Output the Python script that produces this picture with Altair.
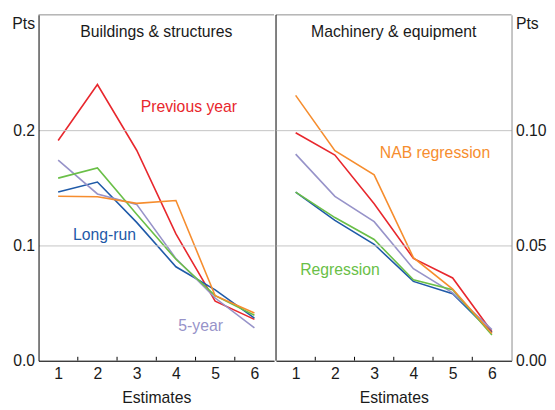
import altair as alt
import pandas as pd

# ---- data ----
estimates = [1, 2, 3, 4, 5, 6]
series_names = ["Previous year", "Long-run", "5-year", "Regression", "NAB regression"]
series_colors = ["#e8272d", "#1f5aa8", "#9793c9", "#6abf47", "#f68d2e"]

# Buildings & structures
bs_previous_year = [0.191, 0.2396, 0.1826, 0.110, 0.0516, 0.0359]
bs_long_run = [0.1464, 0.1550, 0.1200, 0.0815, 0.0615, 0.0370]
bs_five_year = [0.1740, 0.1447, 0.1356, 0.0886, 0.0544, 0.0285]
bs_regression = [0.1584, 0.1672, 0.1270, 0.0880, 0.0565, 0.0395]
bs_nab = [0.1427, 0.1422, 0.1365, 0.1390, 0.0564, 0.0414]

# Machinery & equipment
me_previous_year = [0.0989, 0.0892, 0.0681, 0.0444, 0.0359, 0.0126]
me_long_run = [0.0731, 0.0609, 0.0505, 0.0344, 0.0291, 0.0122]
me_five_year = [0.0896, 0.0713, 0.0603, 0.0399, 0.0294, 0.0135]
me_regression = [0.0731, 0.0621, 0.0526, 0.0351, 0.0308, 0.0112]
me_nab = [0.1151, 0.0911, 0.0806, 0.0447, 0.0311, 0.0118]

# series labels (anchor in data units)
bs_labels = ["Previous year", "Long-run", "5-year"]
bs_label_x = [4.33, 2.18, 4.63]
bs_label_y = [0.2197, 0.1094, 0.0299]
me_labels = ["NAB regression", "Regression"]
me_label_x = [4.55, 2.13]
me_label_y = [0.0902, 0.0393]

panel_titles = ["Buildings & structures", "Machinery & equipment"]

W, H = 239, 351
FONT = "Liberation Sans"
TXT = "#1a1a1a"
GRAY = "#8c8c8c"
FS = 16


def long_df(vals):
    rows = []
    for name, v in zip(series_names, vals):
        for e, val in zip(estimates, v):
            rows.append({"series": name, "est": e, "value": val})
    return pd.DataFrame(rows)


color = alt.Color("series:N", scale=alt.Scale(domain=series_names, range=series_colors), legend=None)


def panel(vals, labels, lx, ly, title, ymax, yvals, yfmt, orient, right):
    df = long_df(vals)
    xs = alt.Scale(domain=[0.5, 6.5], nice=False, zero=False)
    ys = alt.Scale(domain=[0, ymax], nice=False)
    yaxis = alt.Axis(
        orient=orient, values=yvals, format=yfmt, ticks=False, grid=True,
        gridColor="#c4c4c4", domainColor=(GRAY if right else "black"),
        labelPadding=4, title="Pts", titleAngle=0,
        titleAlign=("left" if right else "right"), titleBaseline="top",
        titleX=(4 if right else -4), titleY=1, zindex=1,
    )
    xaxis = alt.Axis(values=estimates, ticks=False, grid=False, title="Estimates",
                     domainColor="black", labelPadding=5, titlePadding=8,
                     labelAngle=0, zindex=1)
    X = alt.X("est:Q", scale=xs, axis=xaxis)
    Y = alt.Y("value:Q", scale=ys, axis=yaxis)
    lines = alt.Chart(df).mark_line(strokeWidth=1.6).encode(
        x=X, y=Y, color=color, detail="series:N",
    )
    ann = pd.DataFrame({"series": labels, "est": lx, "value": ly})
    texts = alt.Chart(ann).mark_text(font=FONT, fontSize=FS).encode(
        x=X, y=Y, text="series:N", color=color,
    )
    tdf = pd.DataFrame({"t": [title]})
    ttl = alt.Chart(tdf).mark_text(font=FONT, fontSize=FS, color=TXT).encode(
        x=alt.value(W / 2), y=alt.value(17), text="t:N"
    )
    bdf = pd.DataFrame({"est": [e + 0.5 for e in estimates[:-1]]})
    ticks = alt.Chart(bdf).mark_rule(color="black", strokeWidth=1).encode(
        x=X, y=alt.value(H), y2=alt.value(H - 4)
    )
    one = pd.DataFrame({"a": [0]})
    top = alt.Chart(one).mark_rule(color=GRAY, strokeWidth=1).encode(
        x=alt.value(0), x2=alt.value(W), y=alt.value(0)
    )
    layers = [lines, texts, ttl, ticks, top]
    if right:
        div = alt.Chart(one).mark_rule(color="black", strokeWidth=1).encode(
            x=alt.value(0), y=alt.value(0), y2=alt.value(H)
        )
        layers.append(div)
    return alt.layer(*layers).properties(width=W, height=H)


left = panel([bs_previous_year, bs_long_run, bs_five_year, bs_regression, bs_nab],
             bs_labels, bs_label_x, bs_label_y, panel_titles[0],
             0.3, [0.0, 0.1, 0.2], ".1f", "left", False)
right = panel([me_previous_year, me_long_run, me_five_year, me_regression, me_nab],
              me_labels, me_label_x, me_label_y, panel_titles[1],
              0.15, [0.0, 0.05, 0.10], ".2f", "right", True)

chart = alt.hconcat(left, right, spacing=0).properties(
    padding={"left": 3, "top": 3, "right": 0, "bottom": 0}
).configure_view(stroke="transparent").configure_axis(
    labelFont=FONT, titleFont=FONT, labelFontSize=FS, titleFontSize=FS,
    labelColor=TXT, titleColor=TXT, titleFontWeight="normal",
)

chart.save("out.html", embed_options={"renderer": "svg", "actions": False})
